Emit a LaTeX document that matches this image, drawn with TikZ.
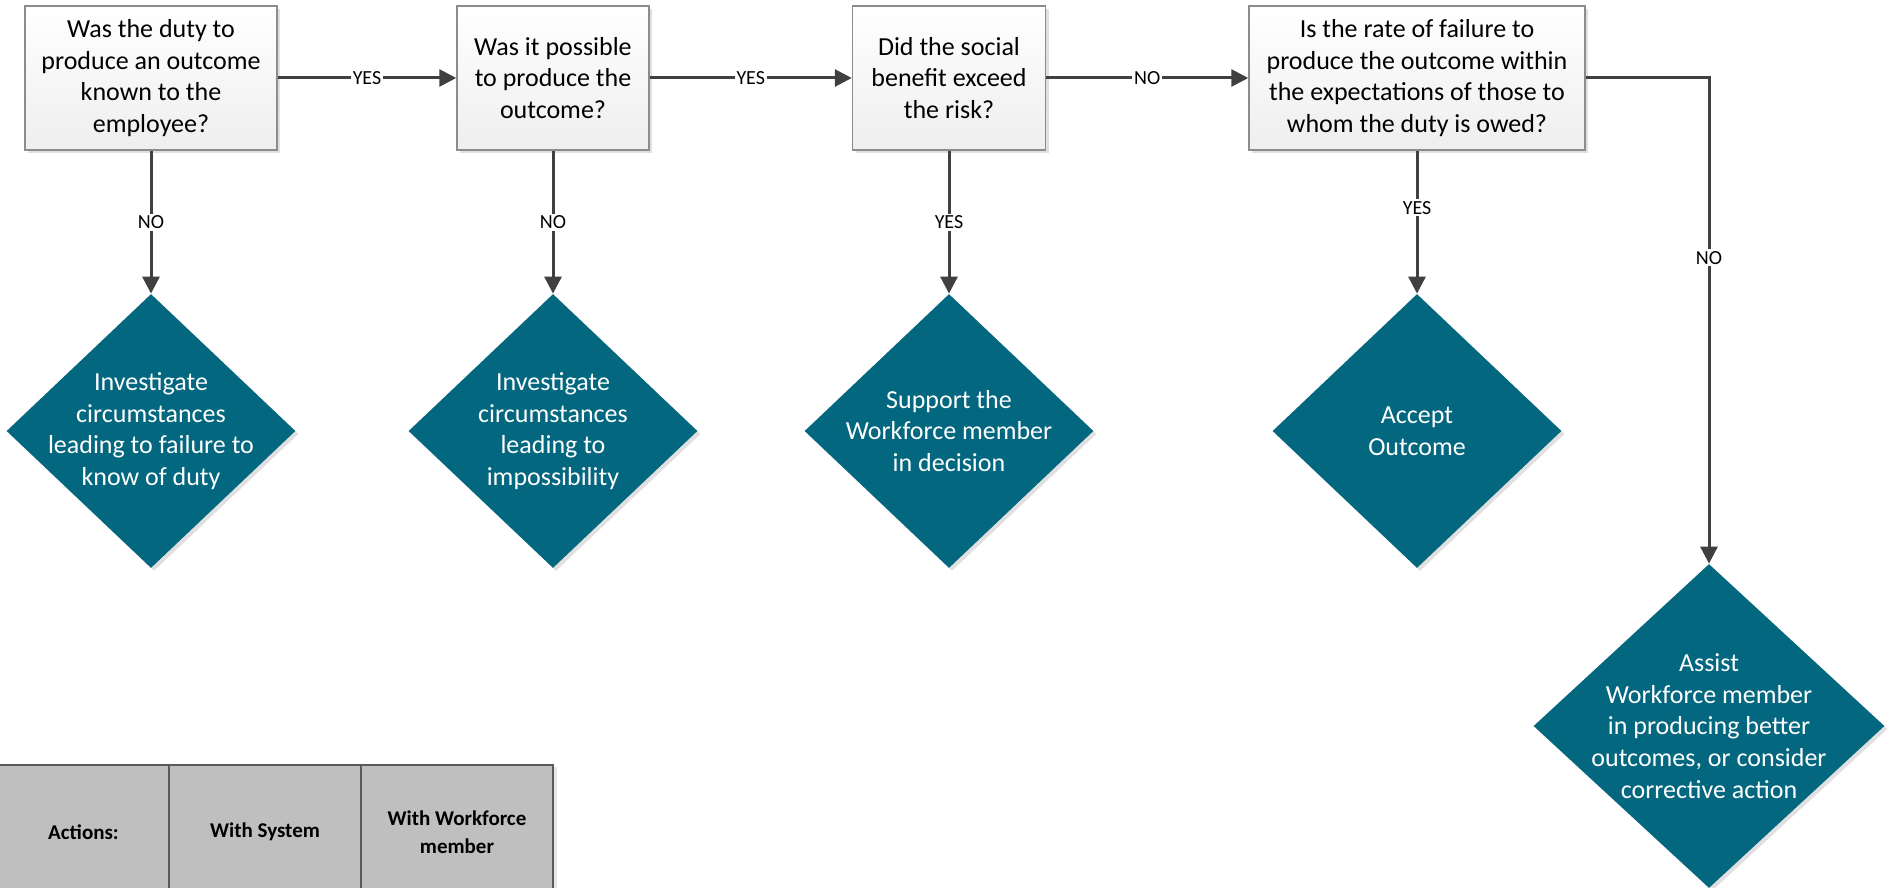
\documentclass[tikz,border=0pt]{standalone}
\usepackage{fontspec}
\setmainfont{Carlito}
\usepackage{xcolor}
\usepackage{tikz}
\usetikzlibrary{shapes.geometric, arrows.meta, shadows}

\definecolor{actionteal}{HTML}{02677F}
\definecolor{qborder}{HTML}{8C8C8C}
\definecolor{flowgray}{HTML}{404040}
\definecolor{legfill}{HTML}{BFBFBF}
\definecolor{legborder}{HTML}{5A5A5A}

\begin{document}
\begin{tikzpicture}[
    x=0.5pt, y=-0.5pt,
    question/.style={rectangle, draw=qborder, line width=0.75pt,
                     top color=white, bottom color=gray!13,
                     minimum height=72pt, align=center, inner sep=2pt,
                     font=\fontsize{13}{15.85}\selectfont,
                     drop shadow={shadow xshift=1.5pt, shadow yshift=-1.5pt, fill=black!12, opacity=1}},
    action/.style={diamond, fill=actionteal, inner sep=0pt,
                   minimum width=144.5pt, minimum height=137pt,
                   drop shadow={shadow xshift=1.5pt, shadow yshift=-1.5pt, fill=black!12, opacity=1}},
    atext/.style={align=center, text=white, font=\fontsize{13}{15.85}\selectfont},
    legcell/.style={rectangle, draw=legborder, fill=legfill, line width=0.6pt,
                    minimum height=67pt, align=center,
                    font=\fontsize{10.5}{14}\selectfont\bfseries,
                    drop shadow={shadow xshift=2pt, shadow yshift=-1pt, fill=black!10, opacity=1}},
    flow/.style={-{Triangle[length=8.5pt, width=8.5pt]}, line width=1.5pt, draw=flowgray},
    lbl/.style={fill=white, inner sep=1pt, font=\fontsize{10}{12}\selectfont},
]

\useasboundingbox (0,0) rectangle (1891,888);
\clip (0,0) rectangle (1891,888);

% Questions (top row)
\node[question, minimum width=126pt] (duty) at (151,78) {Was the duty to\\produce an outcome\\known to the\\employee?};
\node[question, minimum width=96pt] (possible) at (553,78) {Was it possible\\to produce the\\outcome?};
\node[question, minimum width=96.5pt] (benefit) at (949,78) {Did the social\\benefit exceed\\the risk?};
\node[question, minimum width=168pt] (rate) at (1417,78) {Is the rate of failure to\\produce the outcome within\\the expectations of those to\\whom the duty is owed?};

% Actions (diamonds)
\node[action, label={[atext]center:Investigate\\circumstances\\leading to failure to\\know of duty}] (knowduty) at (151,431) {};
\node[action, label={[atext]center:Investigate\\circumstances\\leading to\\impossibility}] (impossible) at (553,431) {};
\node[action, label={[atext]center:Support the\\Workforce member\\in decision}] (support) at (949,431) {};
\node[action, label={[atext]center:Accept\\Outcome}] (accept) at (1417,431) {};
\node[action, minimum width=175.5pt, minimum height=162pt,
      label={[atext]center:Assist\\Workforce member\\in producing better\\outcomes, or consider\\corrective action}] (assist) at (1709,726) {};

% Flow between questions
\draw[flow] (duty) -- node[lbl] {YES} (possible);
\draw[flow] (possible) -- node[lbl] {YES} (benefit);
\draw[flow] (benefit) -- node[lbl] {NO} (rate);

% Flow to actions
\draw[flow] (duty) -- node[lbl] {NO} (knowduty);
\draw[flow] (possible) -- node[lbl] {NO} (impossible);
\draw[flow] (benefit) -- node[lbl] {YES} (support);
\draw[flow] (rate) -- node[lbl, pos=0.4] {YES} (accept);
\draw[flow] (rate.east) -| node[lbl, pos=0.685] {NO} (assist.north);

% Legend
\node[legcell, minimum width=85.5pt] (actions) at (83.5,832) {Actions:};
\node[legcell, minimum width=96pt] (withsys) at (265,832) {With System};
\node[legcell, minimum width=96pt] (withwf) at (457,832) {With Workforce\\member};

\end{tikzpicture}
\end{document}
